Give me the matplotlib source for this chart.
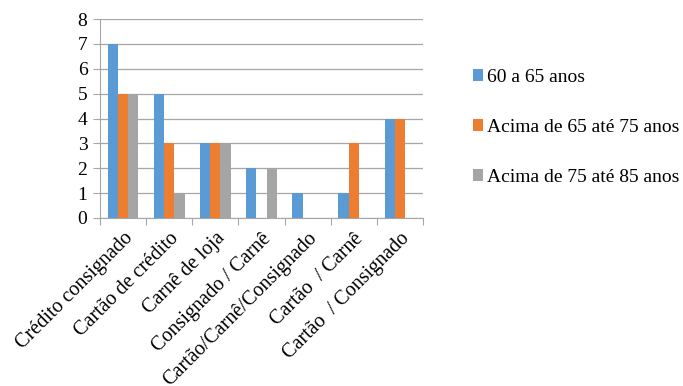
import numpy as np
import matplotlib.pyplot as plt

plt.rcParams['font.family'] = 'serif'
plt.rcParams['font.serif'] = ['Liberation Serif', 'DejaVu Serif']

categorias = ['Crédito consignado', 'Cartão de crédito', 'Carnê de loja',
              'Consignado / Carnê', 'Cartão/Carnê/Consignado', 'Cartão  / Carnê',
              'Cartão  / Consignado']
series = ['60 a 65 anos', 'Acima de 65 até 75 anos', 'Acima de 75 até 85 anos']
v60_65 = [7, 5, 3, 2, 1, 1, 4]
v65_75 = [5, 3, 3, 0, 0, 3, 4]
v75_85 = [5, 1, 3, 2, 0, 0, 0]
cores = ['#5B9BD5', '#ED7D31', '#A5A5A5']

fig = plt.figure(figsize=(6.83, 3.86), dpi=100)
ax = fig.add_axes([100 / 683, 1 - 218 / 386, 323 / 683, 199 / 386])

x = np.arange(len(categorias))
w = 1 / 4.5
for i, (vals, nome, cor) in enumerate(zip([v60_65, v65_75, v75_85], series, cores)):
    ax.bar(x + (i - 1) * w, vals, w, color=cor, label=nome, zorder=3)

ax.set_xlim(-0.5, len(categorias) - 0.5)
ax.set_ylim(0, 8)
ax.set_yticks(range(0, 9))
ax.yaxis.grid(True, color='#A6A6A6', linewidth=0.9, zorder=0)
ax.set_xticks(np.arange(-0.5, len(categorias)), minor=False)
ax.set_xticklabels([])
ax.set_xticks(x, minor=True)
ax.set_xticklabels(categorias, minor=True, rotation=45, ha='right',
                   rotation_mode='anchor', fontsize=14.5)
ax.tick_params(axis='x', which='minor', length=0, pad=8)
ax.tick_params(axis='x', which='major', length=5, color='#A6A6A6')
ax.tick_params(axis='y', length=5, color='#A6A6A6', labelsize=14, pad=4)
for s in ['top', 'right']:
    ax.spines[s].set_visible(False)
ax.spines['left'].set_color('#A6A6A6')
ax.spines['bottom'].set_color('#A6A6A6')

fig.legend(loc='upper left', bbox_to_anchor=(465 / 683, 1 - 61 / 386), frameon=False,
           fontsize=14, handlelength=0.55, handleheight=0.55, handletextpad=0.2,
           labelspacing=1.7, borderaxespad=0)

fig.savefig('out.png', dpi=100)
